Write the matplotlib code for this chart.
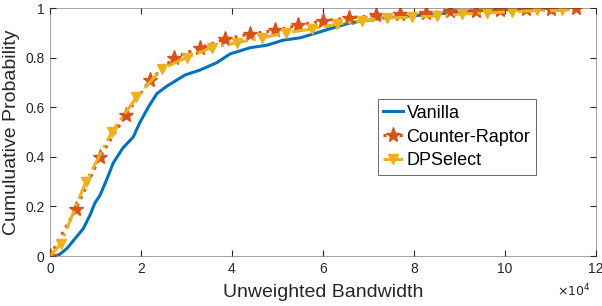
import matplotlib
matplotlib.use("Agg")
import matplotlib.pyplot as plt
import numpy as np

plt.rcParams['font.family'] = ['Liberation Sans', 'DejaVu Sans']

# x values in units of 1e4
vanilla_x = [0.1, 0.2, 0.37, 0.55, 0.73, 0.88, 0.99, 1.1, 1.25, 1.39, 1.6, 1.83, 1.98, 2.16, 2.35, 2.57, 2.97,
             3.3, 3.67, 3.96, 4.4, 4.77, 5.12, 5.5, 5.87, 6.22, 6.6, 7.33, 8.07, 8.8, 9.5, 10.27, 11.1, 11.4]
vanilla_y = [0.0, 0.005, 0.03, 0.07, 0.11, 0.165, 0.215, 0.245, 0.31, 0.375, 0.435, 0.48, 0.54, 0.60, 0.655, 0.685, 0.73,
             0.75, 0.78, 0.815, 0.84, 0.85, 0.87, 0.88, 0.90, 0.92, 0.94, 0.96, 0.97, 0.98, 0.99, 0.995, 1.0, 1.0]

cr_x = [0.0, 0.57, 1.1, 1.67, 2.2, 2.73, 3.3, 3.85, 4.4, 4.95, 5.45, 6.0, 6.57, 7.16, 7.7, 8.26, 8.8, 9.36, 9.9, 10.46, 11.0, 11.56]
cr_y = [0.0, 0.19, 0.40, 0.57, 0.71, 0.80, 0.84, 0.875, 0.895, 0.91, 0.93, 0.948, 0.96, 0.97, 0.975, 0.98, 0.988, 0.988, 0.99, 0.995, 0.995, 1.0]

dp_x = [0.0, 0.24, 0.79, 1.36, 1.9, 2.46, 3.0, 3.55, 4.1, 4.65, 5.19, 5.75, 6.3, 6.85, 7.4, 7.95, 8.5, 9.05, 9.6, 10.15, 10.7, 11.25, 11.5]
dp_y = [0.0, 0.05, 0.30, 0.50, 0.64, 0.755, 0.80, 0.84, 0.86, 0.88, 0.90, 0.915, 0.935, 0.948, 0.96, 0.963, 0.968, 0.976, 0.98, 0.985, 0.99, 0.99, 0.995]

x_ticks = [0, 2, 4, 6, 8, 10, 12]
y_ticks = [0, 0.2, 0.4, 0.6, 0.8, 1]
y_ticklabels = ['0', '0.2', '0.4', '0.6', '0.8', '1']

blue = '#0072BD'
orange = '#D95319'
yellow = '#EDB120'

fig = plt.figure(figsize=(6.02, 3.06), dpi=100)
ax = fig.add_axes([50/602, 50/306, 546/602, 248/306])

ax.plot(vanilla_x, vanilla_y, '-', color=blue, lw=2.2, label='Vanilla')
ax.plot(cr_x, cr_y, ':', color=orange, lw=2.2, marker='*', markersize=11, label='Counter-Raptor')
ax.plot(dp_x, dp_y, '-.', color=yellow, lw=2.2, marker='v', markersize=7.5,
        markevery=list(range(1, len(dp_x) - 1)), label='DPSelect')

ax.set_xlim(0, 12)
ax.set_ylim(0, 1)
ax.set_xticks(x_ticks)
ax.set_xticklabels([str(t) for t in x_ticks])
ax.set_yticks(y_ticks)
ax.set_yticklabels(y_ticklabels)
ax.tick_params(direction='in', length=4, colors='#262626', labelsize=10, top=True, right=True,
               labeltop=False, labelright=False, pad=4)
for s in ax.spines.values():
    s.set_color('#262626')
    s.set_linewidth(0.6)
    s.set_alpha(0.5)

ax.set_xlabel('Unweighted Bandwidth', fontsize=14, color='#262626', labelpad=6)
ax.set_ylabel('Cumuluative Probability', fontsize=14, color='#262626', labelpad=4)
fig.text(590/602, 1 - 291/306, r'$\times10^4$', ha='right', va='center', fontsize=9, color='#262626')

leg = ax.legend(loc='upper left', bbox_to_anchor=(0.60, 0.632), fontsize=13, frameon=True, fancybox=False,
                edgecolor='#262626', handlelength=1.1, handletextpad=0.2, borderpad=0.3, labelspacing=0.38,
                borderaxespad=0)
leg.get_frame().set_linewidth(0.6)

fig.savefig('out.png', dpi=100)
